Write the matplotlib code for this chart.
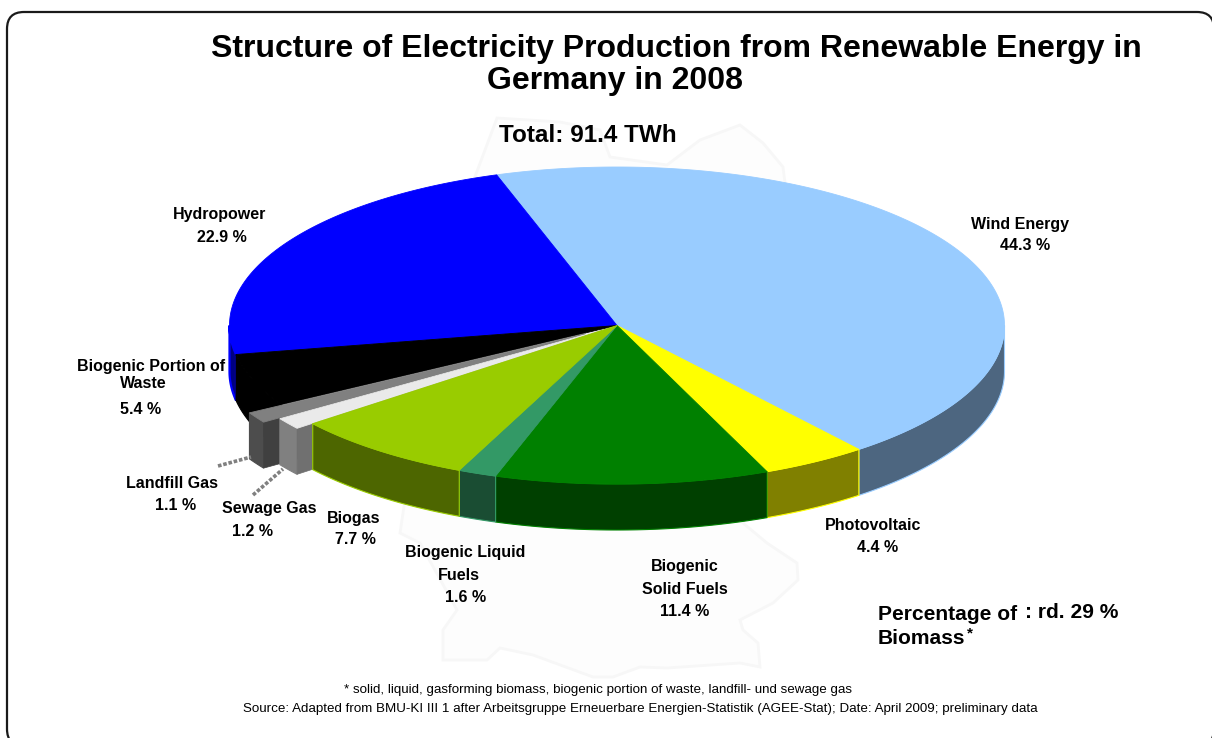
import numpy as np
import matplotlib
matplotlib.use('Agg')
import matplotlib.pyplot as plt
from matplotlib.patches import Polygon, FancyBboxPatch

plt.rcParams['font.family'] = ['Liberation Sans', 'DejaVu Sans']

# slices, clockwise from the start angle
names = ['Wind Energy', 'Photovoltaic', 'Biogenic Solid Fuels', 'Biogenic Liquid Fuels',
         'Biogas', 'Sewage Gas', 'Landfill Gas', 'Biogenic Portion of Waste', 'Hydropower']
values = [44.3, 4.4, 11.4, 1.6, 7.7, 1.2, 1.1, 5.4, 22.9]
top_colors = ['#99CCFF', '#FFFF00', '#008000', '#339966', '#99CC00',
              '#EAEAEA', '#808080', '#000000', '#0000FF']
side_colors = ['#4D6680', '#808000', '#004000', '#1A4D33', '#4D6600',
               '#808080', '#4D4D4D', '#000000', '#000080']
cut_colors = [None, None, None, None, None, '#707070', '#404040', None, None]
explode = [0, 0, 0, 0, 0, 0.05, 0.097, 0, 0]

# label text: (line, centre x, centre y) in figure pixels
label_lines = [
    ('Wind Energy', 1020, 223), ('44.3 %', 1025, 245),
    ('Photovoltaic', 873, 525), ('4.4 %', 878, 547),
    ('Biogenic', 685, 566), ('Solid Fuels', 685, 588), ('11.4 %', 685, 610),
    ('Biogenic Liquid', 465, 552), ('Fuels', 459, 574), ('1.6 %', 466, 596),
    ('Biogas', 354, 517), ('7.7 %', 355, 539),
    ('Sewage Gas', 269, 508), ('1.2 %', 253, 530),
    ('Landfill Gas', 172, 482), ('1.1 %', 176, 504),
    ('Biogenic Portion of', 151, 365), ('Waste', 143, 383), ('5.4 %', 141, 409),
    ('Hydropower', 220, 214), ('22.9 %', 222, 236),
]

CX, CY = 617, 325.5
RX, RY = 387.5, 158.5
DEPTH = 46
START = -18.1


def rim(a0, a1, ox=0, oy=0):
    # points along the rim between two angles (degrees clockwise from top)
    t = np.radians(np.linspace(a0, a1, max(int(abs(a1 - a0) * 2), 2)))
    return np.column_stack([CX + ox + RX * np.sin(t), CY + oy - RY * np.cos(t)])


fig = plt.figure(figsize=(12.12, 7.38), dpi=100)
ax = fig.add_axes([0, 0, 1, 1])
ax.set_xlim(0, 1212)
ax.set_ylim(738, 0)
ax.axis('off')

# rounded frame, runs off the right and bottom edge
ax.add_patch(FancyBboxPatch((24, 29), 1173, 700, boxstyle='round,pad=17,rounding_size=17',
                            fc='white', ec='#1A1A1A', lw=1.6, zorder=0))

# faint map of Germany behind the pie
germany = [(497, 118), (560, 122), (600, 130), (610, 157), (667, 165), (700, 140), (740, 125),
           (763, 143), (783, 167), (800, 300), (743, 523), (767, 543), (797, 563), (798, 580),
           (773, 603), (740, 620), (743, 630), (758, 643), (760, 667), (740, 663), (667, 668),
           (640, 667), (613, 677), (593, 677), (533, 655), (500, 648), (487, 660), (443, 660),
           (443, 630), (457, 610), (420, 543), (400, 533), (420, 400), (470, 190)]
ax.add_patch(Polygon(germany, closed=True, fc='#FDFDFD', ec='#F7F7F7', lw=2, zorder=1))

# cumulative angles from the values
ends = START + np.cumsum(values) * 3.6
starts = np.append(START, ends[:-1])

# painter's order: back slices, exploded ones, then the front ones
order = [0, 8, 7, 6, 5, 1, 2, 3, 4]
z = 2
for i in order:
    a0, a1 = starts[i], ends[i]
    mid = np.radians((a0 + a1) / 2)
    ox = explode[i] * RX * np.sin(mid)
    oy = -explode[i] * RY * np.cos(mid)
    apex = np.array([[CX + ox, CY + oy]])

    # outer wall, only the part facing the viewer
    v0, v1 = max(a0, 90), min(a1, 270)
    if v1 > v0:
        upper = rim(v0, v1, ox, oy)
        wall = np.vstack([upper, (upper + [0, DEPTH])[::-1]])
        edge = top_colors[i] if not explode[i] else side_colors[i]
        lw = 1.6 if i == 8 else 0.8
        ax.add_patch(Polygon(wall, closed=True, fc=side_colors[i], ec=edge, lw=lw, zorder=z))
        z += 1

    # cut face of the pulled out slices
    if explode[i]:
        outer = rim(a0, a0, ox, oy)[:1]
        cut = np.vstack([outer, apex, apex + [0, DEPTH], outer + [0, DEPTH]])
        ax.add_patch(Polygon(cut, closed=True, fc=cut_colors[i], ec=cut_colors[i], lw=0.5, zorder=z))
        z += 1

    top = np.vstack([apex, rim(a0, a1, ox, oy)])
    ax.add_patch(Polygon(top, closed=True, fc=top_colors[i], ec=top_colors[i], lw=0.6, zorder=z))
    z += 1

# dotted leaders for the two small gas slices
ax.plot([218, 251], [466, 457], color='#808080', lw=2.6, ls=(0, (1, 0.5)), zorder=z)
ax.plot([253, 283], [495, 469], color='#808080', lw=2.6, ls=(0, (1, 0.5)), zorder=z)

for txt, x, y in label_lines:
    ax.text(x, y + 1, txt, ha='center', va='center', fontsize=11.5, fontweight='bold', zorder=z + 1)

ax.text(676, 49, 'Structure of Electricity Production from Renewable Energy in', ha='center',
        va='center', fontsize=23.05, fontweight='bold', zorder=z + 1)
ax.text(615, 81, 'Germany in 2008', ha='center', va='center', fontsize=23.05,
        fontweight='bold', zorder=z + 1)
ax.text(588, 135, 'Total: 91.4 TWh', ha='center', va='center', fontsize=17.5,
        fontweight='bold', zorder=z + 1)

ax.text(878, 615, 'Percentage of', ha='left', va='center', fontsize=15.1, fontweight='bold', zorder=z + 1)
ax.text(1025, 613, ': rd. 29 %', ha='left', va='center', fontsize=15.1, fontweight='bold', zorder=z + 1)
ax.text(878, 639, 'Biomass', ha='left', va='center', fontsize=15.1, fontweight='bold', zorder=z + 1)
ax.text(967, 633, '*', ha='left', va='center', fontsize=11, fontweight='bold', zorder=z + 1)

ax.text(598, 690, '* solid, liquid, gasforming biomass, biogenic portion of waste, landfill- und sewage gas',
        ha='center', va='center', fontsize=9.65, zorder=z + 1)
ax.text(640, 709, 'Source: Adapted from BMU-KI III 1 after Arbeitsgruppe Erneuerbare Energien-Statistik '
        '(AGEE-Stat); Date: April 2009; preliminary data',
        ha='center', va='center', fontsize=9.65, zorder=z + 1)

fig.savefig('out.png', dpi=100)
